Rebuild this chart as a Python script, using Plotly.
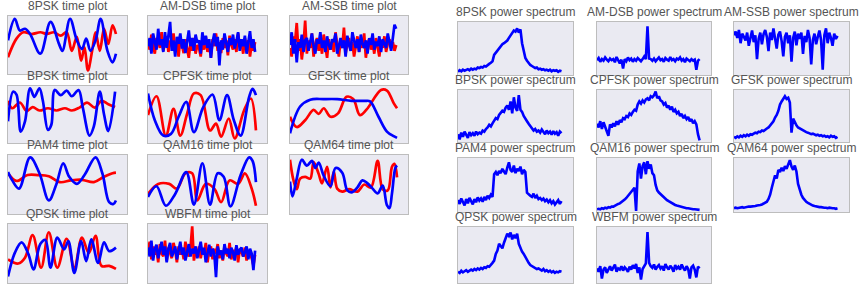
import plotly.graph_objects as go

# ---------------- data (arbitrary units 0-100) ----------------
MODS = ["8PSK", "AM-DSB", "AM-SSB", "BPSK", "CPFSK", "GFSK", "PAM4", "QAM16", "QAM64", "QPSK", "WBFM"]
SAMPLE_IDX = list(range(0, 128, 2))  # sample index axis for densely read series

# time plots (red = I, blue = Q) -- smooth ones read at their turning points
t8psk_red_x = [0, 10, 18, 28, 38, 46, 54, 62, 69, 75, 81, 86, 90, 94, 99, 103, 108, 113, 118, 123, 127]
t8psk_red = [29, 61, 72, 69, 72, 69, 72, 66, 72, 40, 64, 23, 46, 6, 40, 72, 40, 78, 52, 84, 69]
t8psk_blue_x = [0, 8, 14, 20, 26, 38, 50, 60, 64, 73, 81, 87, 92, 97, 103, 109, 117, 123, 127]
t8psk_blue = [58, 95, 75, 78, 69, 35, 90, 52, 40, 95, 58, 43, 61, 40, 58, 95, 40, 20, 35]

tamdsb_red = [55, 42, 68, 50, 35, 62, 58, 45, 72, 40, 52, 65, 38, 58, 48, 70, 42, 55, 30, 62,
              50, 36, 60, 45, 28, 55, 40, 62, 35, 50, 45, 30, 58, 42, 65, 38, 52, 28, 60, 48,
              70, 40, 55, 36, 62, 45, 58, 32, 66, 50, 42, 60, 38, 70, 48, 55, 35, 62, 45, 58,
              30, 52, 40, 55]
tamdsb_blue = [48, 62, 35, 70, 55, 42, 78, 50, 60, 38, 72, 45, 66, 90, 40, 58, 30, 64, 52, 70,
               44, 60, 36, 56, 75, 48, 62, 40, 68, 54, 58, 35, 72, 50, 66, 45, 60, 28, 55, 70,
               48, 64, 15, 58, 42, 70, 52, 38, 62, 50, 68, 44, 56, 72, 40, 60, 48, 66, 35, 58,
               74, 45, 60, 38]

tamssb_red = [45, 30, 65, 55, 88, 40, 60, 25, 50, 92, 35, 58, 45, 70, 30, 52, 62, 40, 55, 35,
              68, 48, 28, 60, 42, 55, 38, 72, 50, 30, 58, 45, 80, 35, 52, 62, 40, 55, 30, 48,
              65, 38, 58, 45, 70, 28, 52, 60, 42, 55, 35, 62, 48, 30, 58, 45, 65, 38, 52, 60,
              45, 55, 40, 50]
tamssb_blue = [50, 72, 35, 60, 20, 55, 45, 68, 38, 58, 62, 40, 55, 70, 48, 35, 60, 52, 72, 45,
               58, 38, 65, 50, 42, 60, 55, 70, 35, 48, 62, 45, 58, 30, 66, 50, 40, 72, 55, 45,
               60, 38, 68, 52, 45, 58, 35, 62, 50, 70, 42, 56, 48, 65, 38, 60, 52, 45, 70, 55,
               40, 62, 85, 78]

tbpsk_red_x = [0, 5, 14, 22, 29, 37, 47, 57, 67, 75, 84, 93, 102, 110, 118, 126]
tbpsk_red = [74, 61, 71, 56, 63, 57, 61, 57, 61, 57, 62, 71, 62, 74, 68, 63]
tbpsk_blue_x = [0, 6, 10, 15, 20, 26, 31, 37, 41, 47, 51, 55, 62, 69, 75, 83, 88, 96, 101, 108, 113, 118, 126]
tbpsk_blue = [38, 90, 85, 20, 38, 96, 81, 96, 74, 23, 32, 93, 84, 92, 82, 93, 62, 13, 29, 90, 50, 21, 90]

tcpfsk_red_x = [0, 10, 21, 30, 38, 46, 54, 62, 73, 80, 86, 95, 102, 113, 121, 127]
tcpfsk_red = [49, 82, 13, 60, 13, 51, 87, 84, 22, 34, 11, 43, 8, 57, 78, 22]
tcpfsk_blue_x = [0, 8, 18, 27, 36, 45, 54, 65, 76, 84, 93, 101, 109, 119, 123, 127]
tcpfsk_blue = [87, 40, 13, 16, 46, 72, 19, 63, 85, 40, 84, 40, 13, 81, 95, 84]

tgfsk_red_x = [0, 8, 18, 28, 34, 40, 48, 57, 67, 75, 83, 91, 108, 115, 123, 127]
tgfsk_red = [46, 28, 40, 58, 51, 61, 46, 52, 81, 77, 49, 59, 93, 92, 70, 61]
tgfsk_blue_x = [0, 12, 24, 40, 56, 73, 89, 95, 105, 115, 123, 127]
tgfsk_blue = [17, 64, 76, 77, 77, 74, 74, 73, 46, 20, 12, 9]

tpam4_red_x = [0, 10, 23, 35, 48, 61, 74, 87, 101, 113, 123, 127]
tpam4_red = [69, 56, 66, 66, 64, 54, 57, 58, 54, 63, 69, 70]
tpam4_blue_x = [0, 5, 13, 26, 37, 48, 57, 65, 72, 81, 90, 103, 111, 119, 124, 127]
tpam4_blue = [71, 57, 43, 96, 69, 23, 51, 86, 63, 51, 66, 96, 69, 20, 17, 23]

tqam16_red_x = [0, 12, 25, 34, 44, 52, 58, 68, 78, 86, 96, 106, 114, 122, 127]
tqam16_red = [34, 51, 51, 43, 69, 69, 23, 51, 43, 20, 57, 51, 69, 43, 14]
tqam16_blue_x = [0, 10, 21, 32, 45, 54, 64, 73, 82, 89, 97, 109, 119, 123, 127]
tqam16_blue = [29, 47, 14, 34, 71, 16, 86, 16, 69, 63, 13, 66, 96, 90, 54]

tqam64_red_x = [0, 4, 8, 12, 18, 24, 28, 34, 38, 44, 48, 52, 56, 62, 70, 80, 88, 96, 104, 110, 116, 121, 124, 127]
tqam64_red = [92, 58, 42, 60, 63, 60, 88, 68, 52, 80, 45, 72, 43, 38, 42, 38, 50, 45, 90, 42, 40, 80, 85, 62]
tqam64_blue_x = [0, 3, 8, 14, 20, 26, 30, 34, 40, 48, 54, 62, 68, 74, 80, 86, 92, 98, 104, 110, 115, 118, 121, 125, 127]
tqam64_blue = [55, 30, 60, 92, 82, 90, 78, 87, 65, 47, 78, 70, 40, 37, 45, 57, 52, 43, 35, 48, 15, 10, 35, 78, 82]

tqpsk_red_x = [0, 12, 20, 29, 39, 48, 58, 69, 78, 87, 95, 103, 110, 119, 127]
tqpsk_red = [40, 33, 43, 81, 26, 86, 26, 75, 26, 77, 51, 80, 29, 29, 24]
tqpsk_blue_x = [0, 8, 16, 24, 30, 38, 44, 50, 58, 66, 71, 78, 86, 92, 98, 106, 113, 119, 127]
tqpsk_blue = [11, 51, 69, 49, 23, 66, 73, 26, 77, 57, 71, 17, 71, 37, 74, 34, 69, 54, 60]

twbfm_red = [55, 70, 40, 62, 48, 58, 35, 66, 50, 45, 72, 38, 60, 52, 42, 68, 55, 35, 62, 48,
             58, 40, 70, 52, 45, 60, 96, 38, 55, 48, 62, 42, 58, 50, 68, 35, 55, 62, 40, 58,
             50, 66, 42, 55, 38, 62, 50, 45, 68, 40, 56, 48, 62, 35, 58, 52, 45, 60, 38, 55,
             50, 42, 30, 48]
twbfm_blue = [60, 45, 72, 38, 58, 65, 42, 55, 70, 48, 62, 35, 58, 68, 45, 52, 62, 40, 56, 70,
              48, 60, 38, 55, 66, 45, 58, 50, 62, 42, 55, 70, 48, 60, 35, 52, 65, 45, 58, 50,
              10, 62, 48, 55, 40, 66, 50, 58, 42, 60, 52, 38, 64, 48, 56, 60, 45, 52, 62, 40,
              58, 50, 22, 55]

# power spectra (read every second bin)
s8psk = [6, 9, 7, 10, 8, 9, 11, 9, 12, 10, 12, 11, 14, 13, 15, 14, 17, 16, 19, 21,
         23, 26, 38, 42, 47, 50, 55, 58, 60, 63, 65, 70, 74, 79, 84, 82, 88, 80, 86, 60,
         42, 32, 27, 22, 19, 17, 15, 13, 14, 11, 12, 10, 11, 9, 10, 8, 10, 7, 9, 8,
         9, 6, 8, 7]
samdsb = [28, 32, 25, 30, 27, 33, 29, 26, 31, 28, 30, 24, 34, 27, 22, 29, 12, 30, 26, 33,
          28, 31, 25, 30, 27, 32, 29, 26, 30, 35, 30, 92, 31, 30, 27, 31, 26, 29, 33, 28,
          30, 25, 32, 29, 27, 34, 28, 30, 26, 31, 29, 33, 27, 30, 24, 31, 28, 26, 30, 27,
          29, 10, 27, 30]
samssb = [75, 82, 70, 85, 60, 78, 72, 65, 80, 55, 70, 84, 62, 75, 30, 68, 80, 58, 77, 85,
          72, 45, 80, 66, 88, 70, 50, 76, 82, 64, 35, 72, 80, 60, 75, 25, 70, 82, 56, 78,
          68, 80, 40, 74, 62, 85, 70, 20, 66, 78, 58, 72, 84, 66, 10, 75, 88, 60, 80, 70,
          55, 78, 68, 74]
sbpsk = [15, 5, 18, 10, 20, 14, 8, 19, 13, 17, 12, 20, 15, 18, 16, 22, 20, 25, 28, 33,
         30, 36, 40, 46, 44, 52, 56, 60, 58, 66, 70, 62, 78, 55, 86, 66, 60, 90, 62, 58,
         50, 46, 40, 35, 30, 26, 22, 25, 20, 22, 18, 24, 20, 15, 22, 17, 20, 14, 21, 16,
         19, 12, 20, 17]
scpfsk = [35, 28, 40, 25, 38, 30, 22, 12, 34, 28, 36, 30, 40, 33, 42, 38, 46, 44, 50, 48,
          55, 52, 58, 62, 60, 72, 78, 74, 80, 76, 82, 84, 80, 88, 86, 90, 97, 84, 88, 80,
          78, 72, 75, 66, 70, 62, 68, 58, 62, 55, 58, 50, 54, 46, 50, 44, 48, 40, 44, 36,
          40, 34, 15, 3]
sgfsk = [10, 8, 11, 9, 12, 10, 13, 11, 14, 12, 15, 14, 16, 18, 17, 20, 19, 22, 21, 24,
         26, 28, 32, 35, 40, 47, 52, 60, 72, 78, 84, 88, 83, 85, 76, 18, 45, 38, 32, 28,
         26, 24, 22, 21, 19, 18, 17, 15, 16, 14, 13, 14, 12, 13, 11, 12, 10, 11, 9, 12,
         10, 11, 8, 10]
spam4 = [22, 15, 25, 18, 12, 24, 16, 26, 20, 14, 24, 18, 27, 21, 25, 19, 28, 22, 30, 26,
         32, 28, 70, 74, 68, 76, 72, 80, 75, 70, 82, 92, 78, 74, 86, 72, 80, 76, 84, 70,
         78, 74, 36, 32, 30, 28, 34, 26, 30, 24, 26, 22, 25, 20, 23, 18, 22, 16, 20, 14,
         18, 22, 15, 20]
sqam16 = [5, 6, 5, 7, 6, 8, 7, 9, 8, 10, 10, 12, 13, 15, 16, 18, 20, 23, 26, 30,
          34, 38, 42, 45, 2, 75, 90, 62, 85, 92, 70, 94, 80, 88, 72, 68, 50, 40, 36, 33,
          30, 28, 25, 22, 20, 18, 16, 15, 13, 12, 11, 10, 9, 9, 8, 7, 7, 6, 6, 5,
          5, 5, 4, 4]
sqam64 = [7, 8, 7, 8, 8, 9, 8, 9, 9, 10, 10, 10, 11, 11, 12, 12, 13, 14, 16, 17,
          19, 24, 32, 45, 56, 68, 62, 78, 74, 82, 76, 85, 80, 88, 96, 84, 78, 86, 75, 52,
          40, 32, 26, 22, 19, 17, 15, 13, 12, 11, 10, 10, 9, 9, 8, 8, 8, 7, 8, 7,
          7, 7, 6, 7]
sqpsk = [20, 18, 22, 19, 21, 23, 20, 22, 24, 22, 25, 23, 26, 24, 27, 25, 28, 27, 30, 29,
         32, 36, 40, 52, 58, 70, 66, 62, 72, 82, 88, 84, 90, 78, 86, 80, 88, 70, 62, 56,
         52, 46, 40, 36, 32, 30, 28, 27, 25, 26, 24, 22, 25, 21, 23, 20, 22, 19, 21, 18,
         20, 19, 21, 20]
swbfm = [26, 20, 30, 8, 24, 28, 18, 25, 30, 22, 27, 33, 20, 26, 24, 30, 22, 28, 25, 20,
         29, 24, 32, 26, 34, 18, 28, 6, 25, 31, 35, 91, 36, 30, 27, 33, 24, 29, 32, 26,
         30, 22, 34, 28, 24, 31, 27, 20, 32, 26, 29, 24, 33, 27, 22, 30, 25, 8, 28, 31,
         24, 10, 29, 26]

# ---------------- tables built from the named lists ----------------
TIME = {
    "8PSK": ((t8psk_red_x, t8psk_red), (t8psk_blue_x, t8psk_blue), "spline"),
    "AM-DSB": ((SAMPLE_IDX, tamdsb_red), (SAMPLE_IDX, tamdsb_blue), "linear"),
    "AM-SSB": ((SAMPLE_IDX, tamssb_red), (SAMPLE_IDX, tamssb_blue), "linear"),
    "BPSK": ((tbpsk_red_x, tbpsk_red), (tbpsk_blue_x, tbpsk_blue), "spline"),
    "CPFSK": ((tcpfsk_red_x, tcpfsk_red), (tcpfsk_blue_x, tcpfsk_blue), "spline"),
    "GFSK": ((tgfsk_red_x, tgfsk_red), (tgfsk_blue_x, tgfsk_blue), "spline"),
    "PAM4": ((tpam4_red_x, tpam4_red), (tpam4_blue_x, tpam4_blue), "spline"),
    "QAM16": ((tqam16_red_x, tqam16_red), (tqam16_blue_x, tqam16_blue), "spline"),
    "QAM64": ((tqam64_red_x, tqam64_red), (tqam64_blue_x, tqam64_blue), "spline"),
    "QPSK": ((tqpsk_red_x, tqpsk_red), (tqpsk_blue_x, tqpsk_blue), "spline"),
    "WBFM": ((SAMPLE_IDX, twbfm_red), (SAMPLE_IDX, twbfm_blue), "linear"),
}
SPEC = {"8PSK": s8psk, "AM-DSB": samdsb, "AM-SSB": samssb, "BPSK": sbpsk, "CPFSK": scpfsk,
        "GFSK": sgfsk, "PAM4": spam4, "QAM16": sqam16, "QAM64": sqam64, "QPSK": sqpsk,
        "WBFM": swbfm}

# ---------------- layout (pixels in the 859x288 window) ----------------
W, H = 859, 288
RED, BLUE = "#ff0000", "#0000ff"
BG, EDGE, TCOL = "#EAEAF2", "#bdbdbd", "#555555"
FONT = "Liberation Sans, Arial, sans-serif"
LEFT_COLS = [(8, 127), (148, 267), (290, 408)]
LEFT_ROWS = [(16, 74), (86, 143), (155, 214), (224, 283)]
RIGHT_COLS = [(458, 573), (597, 711), (734, 849)]
RIGHT_ROWS = [(22, 75), (90, 142), (158, 212), (227, 283)]

fig = go.Figure()
annotations = []
axis_no = [0]


def add_axes(box):
    axis_no[0] += 1
    k = axis_no[0]
    (x0, x1), (y0, y1) = box
    common = dict(showgrid=False, zeroline=False, showticklabels=False, ticks="",
                  showline=True, mirror=True, linecolor=EDGE, linewidth=1, fixedrange=True)
    fig.layout[f"xaxis{k}"] = dict(domain=[x0 / W, x1 / W], range=[0, 140],
                                   anchor=f"y{k}", **common)
    fig.layout[f"yaxis{k}"] = dict(domain=[1 - y1 / H, 1 - y0 / H], range=[0, 100],
                                   anchor=f"x{k}", **common)
    return ("x" if k == 1 else f"x{k}"), ("y" if k == 1 else f"y{k}")


def add_title(text, box, off):
    (x0, x1), (y0, y1) = box
    annotations.append(dict(text=text, xref="paper", yref="paper",
                            x=(x0 + x1) / 2 / W,
                            y=1 - (y0 - off) / H, xanchor="center", yanchor="middle",
                            showarrow=False, font=dict(family=FONT, size=12, color=TCOL)))


for i, m in enumerate(MODS):
    box = (LEFT_COLS[i % 3], LEFT_ROWS[i // 3])
    xa, ya = add_axes(box)
    (rx, ry), (bx, by), shape = TIME[m]
    fig.add_trace(go.Scatter(x=rx, y=ry, mode="lines", xaxis=xa, yaxis=ya,
                             line=dict(color=RED, width=2.7, shape=shape)))
    fig.add_trace(go.Scatter(x=bx, y=by, mode="lines", xaxis=xa, yaxis=ya,
                             line=dict(color=BLUE, width=2.7, shape=shape)))
    add_title(f"{m} time plot", box, 10)

for i, m in enumerate(MODS):
    box = (RIGHT_COLS[i % 3], RIGHT_ROWS[i // 3])
    xa, ya = add_axes(box)
    fig.add_trace(go.Scatter(x=SAMPLE_IDX, y=SPEC[m], mode="lines", xaxis=xa, yaxis=ya,
                             line=dict(color=BLUE, width=2.6)))
    add_title(f"{m} power spectrum", box, 10)

fig.update_layout(width=W, height=H, margin=dict(l=0, r=0, t=0, b=0),
                  plot_bgcolor=BG, paper_bgcolor="white", showlegend=False,
                  hovermode=False, annotations=annotations, font=dict(family=FONT))
fig.write_html("out.html", config={"displayModeBar": False, "staticPlot": True},
               post_script="document.body.style.margin='0';document.body.style.overflow='hidden';")
